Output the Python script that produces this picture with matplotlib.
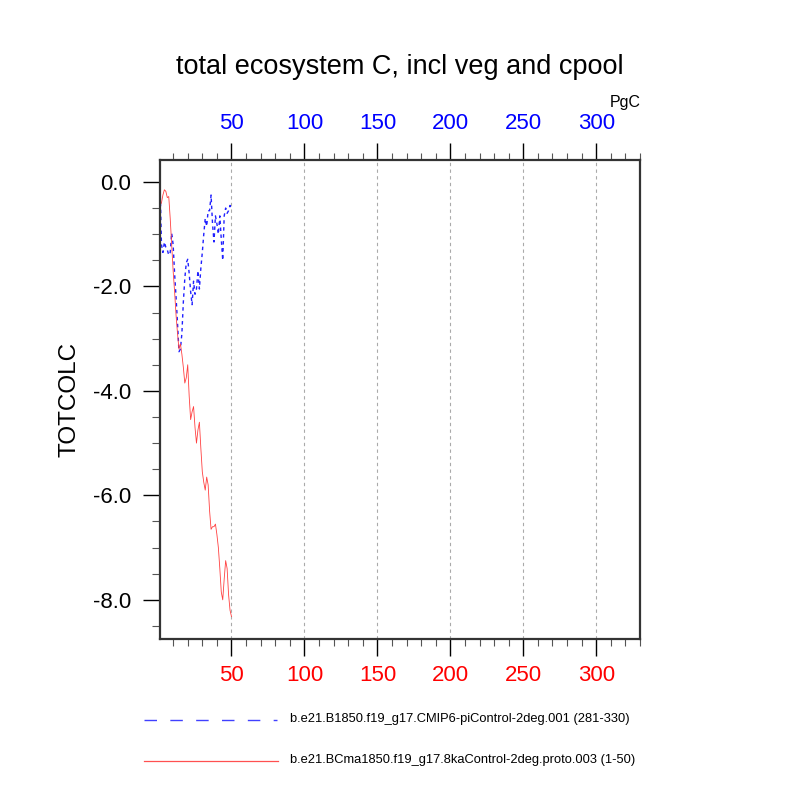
import numpy as np
import matplotlib
matplotlib.use("Agg")
import matplotlib.pyplot as plt
from matplotlib.lines import Line2D

plt.rcParams['font.family'] = ['Liberation Sans', 'DejaVu Sans']

# model years, plotted as 1..50
years = np.arange(1, 51)

# TOTCOLC anomaly (PgC), piControl years 281-330
ctrl_totcolc = [
    0.00, -1.20, -1.35, -1.15, -1.25, -1.30, -1.40, -1.35, -0.98, -1.20,
    -1.75, -2.20, -2.70, -3.25, -3.20, -2.90, -2.30, -1.85, -1.55, -1.48,
    -1.75, -2.10, -2.35, -1.90, -2.15, -2.05, -1.70, -2.05, -1.65, -1.35,
    -1.00, -0.70, -0.85, -0.55, -0.55, -0.25, -0.80, -1.15, -0.65, -0.80,
    -1.00, -0.65, -1.10, -1.50, -0.65, -0.50, -0.60, -0.55, -0.45, -0.52,
]

# TOTCOLC anomaly (PgC), 8ka control years 1-50
ka8_totcolc = [
    -0.45, -0.40, -0.25, -0.15, -0.18, -0.30, -0.28, -0.70, -1.20, -1.70,
    -2.10, -2.55, -2.90, -3.20, -3.10, -3.30, -3.55, -3.85, -3.75, -3.50,
    -4.10, -4.55, -4.40, -4.30, -4.70, -5.00, -4.75, -4.60, -5.10, -5.55,
    -5.75, -5.90, -5.65, -5.80, -6.30, -6.65, -6.60, -6.60, -6.55, -6.75,
    -7.00, -7.40, -7.85, -8.00, -7.60, -7.25, -7.40, -7.90, -8.20, -8.32,
]

xticks = [50, 100, 150, 200, 250, 300]
yticks = [0.0, -2.0, -4.0, -6.0, -8.0]

ctrl_label = "b.e21.B1850.f19_g17.CMIP6-piControl-2deg.001 (281-330)"
ka8_label = "b.e21.BCma1850.f19_g17.8kaControl-2deg.proto.003 (1-50)"

fig = plt.figure(figsize=(8, 8), dpi=100)
ax = fig.add_axes([0.2, 0.20125, 0.6, 0.59875])

ax.plot(years, ctrl_totcolc, color='#2020ff', lw=1.0, dashes=(2.5, 2.5))
ax.plot(years, ka8_totcolc, color='#ff4040', lw=0.6)

ax.set_xlim(1, 330)
ax.set_ylim(-8.75, 0.42)

ax.set_xticks(xticks)
ax.set_xticks(np.arange(10, 331, 10), minor=True)
ax.set_yticks(yticks)
ax.set_yticklabels(["%.1f" % v for v in yticks])
ax.set_yticks(np.arange(0.0, -8.8, -0.5), minor=True)

for xv in xticks:
    ax.axvline(xv, color='#aaaaaa', lw=0.8, ls=(0, (3, 3)), zorder=0)

ax.tick_params(axis='x', which='both', direction='out', top=True, labeltop=True,
               labelsize=16)
ax.tick_params(axis='x', which='major', length=12, width=1.0, pad=7)
ax.tick_params(axis='x', which='minor', length=5, width=0.8, color='#555555')
ax.tick_params(axis='y', which='both', direction='out', right=False, labelsize=16)
ax.tick_params(axis='y', which='major', length=12, width=1.0, pad=9)
ax.tick_params(axis='y', which='minor', length=6, width=0.8, color='#555555')

for t in ax.xaxis.get_major_ticks():
    t.label1.set_color('red')
    t.label2.set_color('blue')
    t.label2.set_y(1.0)

for s in ax.spines.values():
    s.set_linewidth(1.6)
    s.set_color('#333333')

ax.set_ylabel("TOTCOLC", fontsize=17.5)
ax.yaxis.set_label_coords(-0.165, 0.5)

fig.text(0.5, 1 - 67 / 800, "total ecosystem C, incl veg and cpool",
         ha='center', va='center', fontsize=19.5)
fig.text(641 / 800, 1 - 103 / 800, "PgC", ha='right', va='center', fontsize=11.5)

# legend below the plot
fig.add_artist(Line2D([144 / 800, 277 / 800], [1 - 719.5 / 800] * 2, color='#4040ff',
                      lw=1.0, dashes=(9, 9.6)))
fig.add_artist(Line2D([144 / 800, 278 / 800], [1 - 760.5 / 800] * 2, color='#ff5050',
                      lw=0.9))
fig.text(290 / 800, 1 - 719 / 800, ctrl_label, ha='left', va='center', fontsize=9.3)
fig.text(290 / 800, 1 - 760 / 800, ka8_label, ha='left', va='center', fontsize=9.3)

fig.savefig("out.png", dpi=100)
